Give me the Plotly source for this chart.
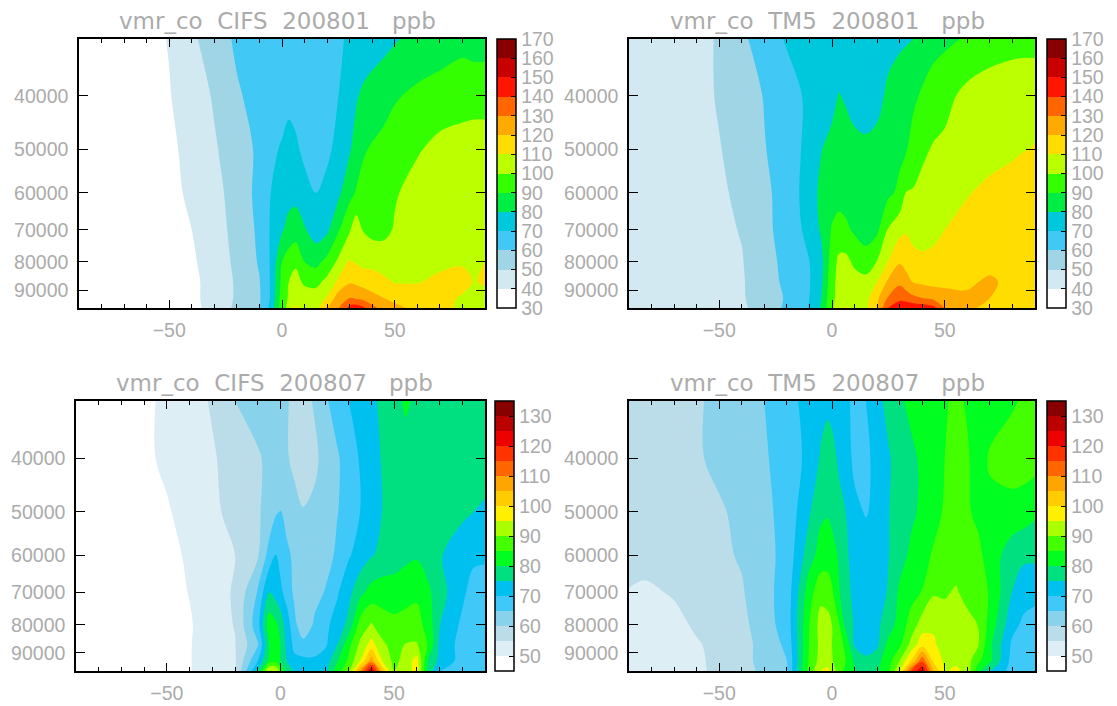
import plotly.graph_objects as go

levels = [31550, 40000, 50000, 60000, 70000, 80000, 87000, 93000, 97000]
lat_jan = [-90,-60,-50,-40,-30,-20,-10,-5,0,3,6,10,15,20,25,30,33,36,40,45,50,60,70,80,85,90]
lat_cifs_jul = [-90,-60,-50,-40,-30,-20,-10,-5,-2,0,3,6,10,15,20,25,30,35,40,45,50,55,60,65,70,80,85,90]
lat_tm5_jul = [-90,-83,-70,-60,-50,-40,-30,-20,-10,-5,-2,0,3,6,10,15,20,25,30,35,40,45,50,55,60,65,70,80,85,90]

cifs_jan = [
 [30,37,40.5,48,55.5,61.5,63,64,65,65,65,65,65,66,69,71,72,73,75,77,79,83,85,87,86,86],
 [30,36,39.5,45,51,59,63,64,66,68,67,65,65,67,70,76,79,82,84,86,89,92,94,96,96,96],
 [30,35,38,43,49,55,62,68,71,72.5,71.5,68,66,68,73,79,84,89,91,93,95,99,103,104,105,105],
 [30,34,37,42,47,54,63,70,74,77,77,73,70,73,78,87,91,93,95,97,99,104,107,108,108,108],
 [30,33,36,40,46,53,62,71,79,83,85,81,75,78,89,99,106,99.5,97,97,101,105,107,107,107,107],
 [30,32,35,38.5,45,52,61,71,90,95,98,90,87,93,102,111,109,107,107,106,105,106,108,109,109,110],
 [30,31,33,37,45,51,59.5,71,93,100,104,98,97,103,112,119,118,116,115,112,109.5,109.5,112,113,109.5,111],
 [30,31,33,37,45,51,59,71,95,101,108,106,105,111,125,130,128,127,123,120,117,115,113,109,107,107],
 [30,31,33,37,44,52,59.5,73,96,103,111,108,106,120,130,143,146,142,133,127,123,117,113,108,106,106],
]
tm5_jan = [
 [41,47,51,58,65,71,72,72,72,73,73,73,74,75,77,78,79,80,85,87,88,91,94,96,96,96],
 [41,46.5,51,55,60.5,66,72,74,77,80.5,79,76,75,77,82,86,87.5,88.5,91,94,97,103,106,107,108,108],
 [42,47,49.5,54,59.5,65,73,79.5,83,84,84,83,82,83,85,88,89.5,93,98,101,102,105,107,108.5,109.7,110.3],
 [42,47,48.5,52,58,64,75,82,85,86,86,85,84,85,88,92,100.5,101,103,105,106,109.5,112,114,115,115],
 [42,47,48,50.5,57.5,64,73,81,91,94,92,88.5,85,88,101,107,109,107,108,109,110,113,115,116,116,116],
 [42,46,47.5,49.5,56,63,70,76,95,102,103,98,95,100.5,110.5,119,116,113,111,111,112,115,116,116,116,116],
 [42,46,47.5,49,56,62,69.5,77,97,103,104,104,103,110,122,128,124,119.5,118,117,117,118,122,116.5,115,115],
 [42,46,47,49,55,61,70,79,98,103,104,105,107,118,131,137,135,132,130,127,125,122,120,115,114,114],
 [42,46,47,48.5,54,62,70.5,81,99,105,111,108,108,120,141,147,148,147,146,143,130,122,117,114,113,113],
]
cifs_jul = [
 [45,49,51,53,55.5,60,62,62,61.5,61,60.3,59,58.5,60.5,64.5,67,70,72,74,76,78,80.8,79,78,78,78,78,78],
 [45,49,51,53,54.5,57,59.5,61,61.5,61,60.3,59,58,59,62,64.5,67,70.5,73,75.5,77,78,78,78,78,78,78,78],
 [45,47.5,49.5,52,54,56.5,59.5,61.5,64.5,65.2,63,61.5,60.2,61,63,64.8,67,70,72.5,75.2,77,77.5,77.5,77,76.5,76,75,74],
 [45,47,48,51,53,55,59.5,67,70.3,68.5,66,64,62,61.5,63,66,69.5,72,74.7,76,77,78.5,79.5,77.5,75.5,72,71,71],
 [45,46.5,48,50.2,53,55.5,65.5,75.3,73,71,68,64,62,63,65.5,69.5,73.5,78.5,82,83,83,84,84,81,77,71,68,67],
 [45,46,47.5,49.5,53,55.2,68,83,81,78,72,67,60.5,66,69,72,76.5,87,90.5,87,86,86,87,83,75.2,69,67,67],
 [45,46,47.3,49.7,52.8,54.8,64.5,80,83,80,73,69,67,67,69.5,75,83.5,91,97,91,88,90.3,90.5,84.5,74,68,66,66],
 [45,46,47.3,49.7,53,54.5,70,82,83,80,74.5,71,71,71,72.5,79.5,86,95,108,94.5,88.5,92,97,79,73.8,68,66,67],
 [45,46,47.3,49.7,53,54.5,76,96,95,87,78,74.5,73,73,74,83,89,108,126,103,90,92,97,78,70,68,67,70],
]
tm5_jul = [
 [57,57,58,59.5,61,63,65,68.5,71.5,73.5,74.5,74,73,71,69,70,73.5,76.5,79,81.5,82.5,83.5,84.5,86,84.5,83,83,84.5,85.5,86],
 [57,57,58,59.5,61,63,64.5,67,71.5,75.5,76,76,74.5,72,69,69,71.5,74.5,77,78.7,81,83,85,86.5,85.5,83,85.5,87,87.5,87],
 [57,57,57.5,58.5,59.5,61,64,66.5,74.5,79,79.5,78.5,76,75,71,69.7,71,74.8,77,79,81,83.5,85.5,86,85.5,84,84,83.5,82.5,81],
 [57,57,57.5,58,59,60.5,63.5,66.5,78,82,83,82,79.5,76,73,72,72.5,74.8,78,81,83.5,85.5,87,88,87.5,86,83,77,76,76],
 [54.7,54,55.5,56.5,58,59.5,63.5,67,83,88.5,87.5,85.8,80.5,77,73.5,71,72.5,75.5,81,83.3,85.2,89.5,89.5,90.5,88.5,87.5,84.5,74.8,72,71.5],
 [52,52,53.5,55.8,57,58.5,63,67,85,92,92,90,85.5,78.5,74.5,73,74,77.5,82,87,92.5,94,92,93,91.5,89.8,83,71.5,69,68],
 [51,51,52.5,54.5,56.5,58,62,66,85.5,91.5,91,90,87,84,74.5,73,74,81.5,84,91.5,98,96,92,92,91.5,90,81,69,67,67],
 [51,51,52,54.2,56.2,58,62,65,86,92,91.5,90.5,87,85,79,76,78.5,83,90,100,114,99,94,94,92,86,81,68,67,67],
 [51,51,52,54.2,56,57.5,61.5,65,87,95,97,93,88,84,80,77,79.5,84,95,115,125,105,94.5,96,93.5,81,75,68,67,67],
]

jan_colors = ["#FFFFFF","#D2E9F1","#A0D5E6","#42C8F5","#00C8DC","#00EE44","#33FF00","#BBFF00","#FFDD00","#FFAA00","#FF6600","#FF1500","#C80000","#880000"]
jul_colors = ["#FFFFFF","#DDEEF5","#BBDDE9","#88D2EC","#40C8F8","#00C0F0","#00E080","#00FF20","#44FF00","#AAFF00","#FFF000","#FFCC00","#FFA500","#FF6600","#FF3300","#EE0000","#BB0000","#880000"]
jan_ticks = list(range(30, 171, 10))
jul_ticks = list(range(50, 131, 10))
press_ticks = [40000, 50000, 60000, 70000, 80000, 90000]
lat_ticks = [-50, 0, 50]
titles = ["vmr_co  CIFS  200801   ppb", "vmr_co  TM5  200801   ppb", "vmr_co  CIFS  200807   ppb", "vmr_co  TM5  200807   ppb"]

W, H = 1117, 706
GRAY = "#ababab"
FONT = "Liberation Sans"
TITLE_FONT = "DejaVu Sans"


def stepped(cols):
    n = len(cols)
    out = []
    for i, c in enumerate(cols):
        out += [[i / n, c], [(i + 1) / n, c]]
    return out


panels = [
 dict(lat=lat_jan, z=cifs_jan, cols=jan_colors, lo=30, hi=170, step=10, ticks=jan_ticks, box=(79, 485, 39, 308), bar=497, tx=277, ty=21),
 dict(lat=lat_jan, z=tm5_jan, cols=jan_colors, lo=30, hi=170, step=10, ticks=jan_ticks, box=(629, 1035, 39, 308), bar=1047, tx=827, ty=21),
 dict(lat=lat_cifs_jul, z=cifs_jul, cols=jul_colors, lo=45, hi=135, step=5, ticks=jul_ticks, box=(76, 485, 401, 671), bar=495, tx=274, ty=383),
 dict(lat=lat_tm5_jul, z=tm5_jul, cols=jul_colors, lo=45, hi=135, step=5, ticks=jul_ticks, box=(629, 1035, 401, 671), bar=1047, tx=827, ty=383),
]

fig = go.Figure()
layout = dict(width=W, height=H, margin=dict(l=0, r=0, t=0, b=0, autoexpand=False),
              paper_bgcolor="white", plot_bgcolor="white", showlegend=False, annotations=[])

for i, p in enumerate(panels, 1):
    for row in p["z"]:
        assert len(row) == len(p["lat"]), (i, len(row))
    x0, x1, y0, y1 = p["box"]
    xn, yn = f"xaxis{i}", f"yaxis{i}"
    fig.add_trace(go.Contour(
        x=p["lat"], y=levels, z=p["z"], xaxis=f"x{i}", yaxis=f"y{i}",
        zmin=p["lo"], zmax=p["hi"], autocontour=False,
        contours=dict(start=p["lo"], end=p["hi"], size=p["step"], coloring="fill", showlines=False),
        line=dict(width=0), colorscale=stepped(p["cols"]), hoverinfo="skip",
        colorbar=dict(x=p["bar"] / W, xanchor="left", xpad=0, ypad=0, y=1 - y1 / H, yanchor="bottom",
                      thicknessmode="pixels", thickness=19, lenmode="pixels", len=y1 - y0,
                      outlinecolor="black", outlinewidth=1.5, borderwidth=0,
                      tickmode="array", tickvals=p["ticks"], ticks="inside", ticklen=5,
                      tickcolor="black", tickwidth=1,
                      tickfont=dict(family=FONT, size=19.5, color=GRAY)),
    ))
    layout[xn] = dict(domain=[x0 / W, x1 / W], anchor=f"y{i}", range=[-90, 90],
                      tickmode="array", tickvals=lat_ticks, ticks="inside", ticklen=8, tickwidth=1,
                      tickcolor="black", mirror="ticks", showline=True, linecolor="black", linewidth=1.5,
                      showgrid=False, zeroline=False, ticklabelstandoff=4,
                      tickfont=dict(family=FONT, size=19.5, color=GRAY),
                      minor=dict(tickmode="array", tickvals=list(range(-90, 91, 10)), ticks="inside",
                                 ticklen=4, tickcolor="black", tickwidth=1, showgrid=False))
    layout[yn] = dict(domain=[1 - y1 / H, 1 - y0 / H], anchor=f"x{i}", type="log",
                      range=[4.98677, 4.49900],
                      tickmode="array", tickvals=press_ticks, ticktext=[str(v) for v in press_ticks],
                      ticks="inside", ticklen=9, tickwidth=1, tickcolor="black", mirror="ticks",
                      showline=True, linecolor="black", linewidth=1.5, showgrid=False, zeroline=False,
                      ticklabelstandoff=5, tickfont=dict(family=FONT, size=19.5, color=GRAY))
    layout["annotations"].append(dict(
        text=titles[i - 1].replace(" ", "\u00a0"), x=p["tx"] / W, y=1 - p["ty"] / H, xref="paper", yref="paper",
        xanchor="center", yanchor="middle", showarrow=False,
        font=dict(family=TITLE_FONT, size=23, color=GRAY)))

fig.update_layout(**layout)
fig.write_html("out.html", config={"displayModeBar": False}, post_script="document.body.style.margin='0';")
